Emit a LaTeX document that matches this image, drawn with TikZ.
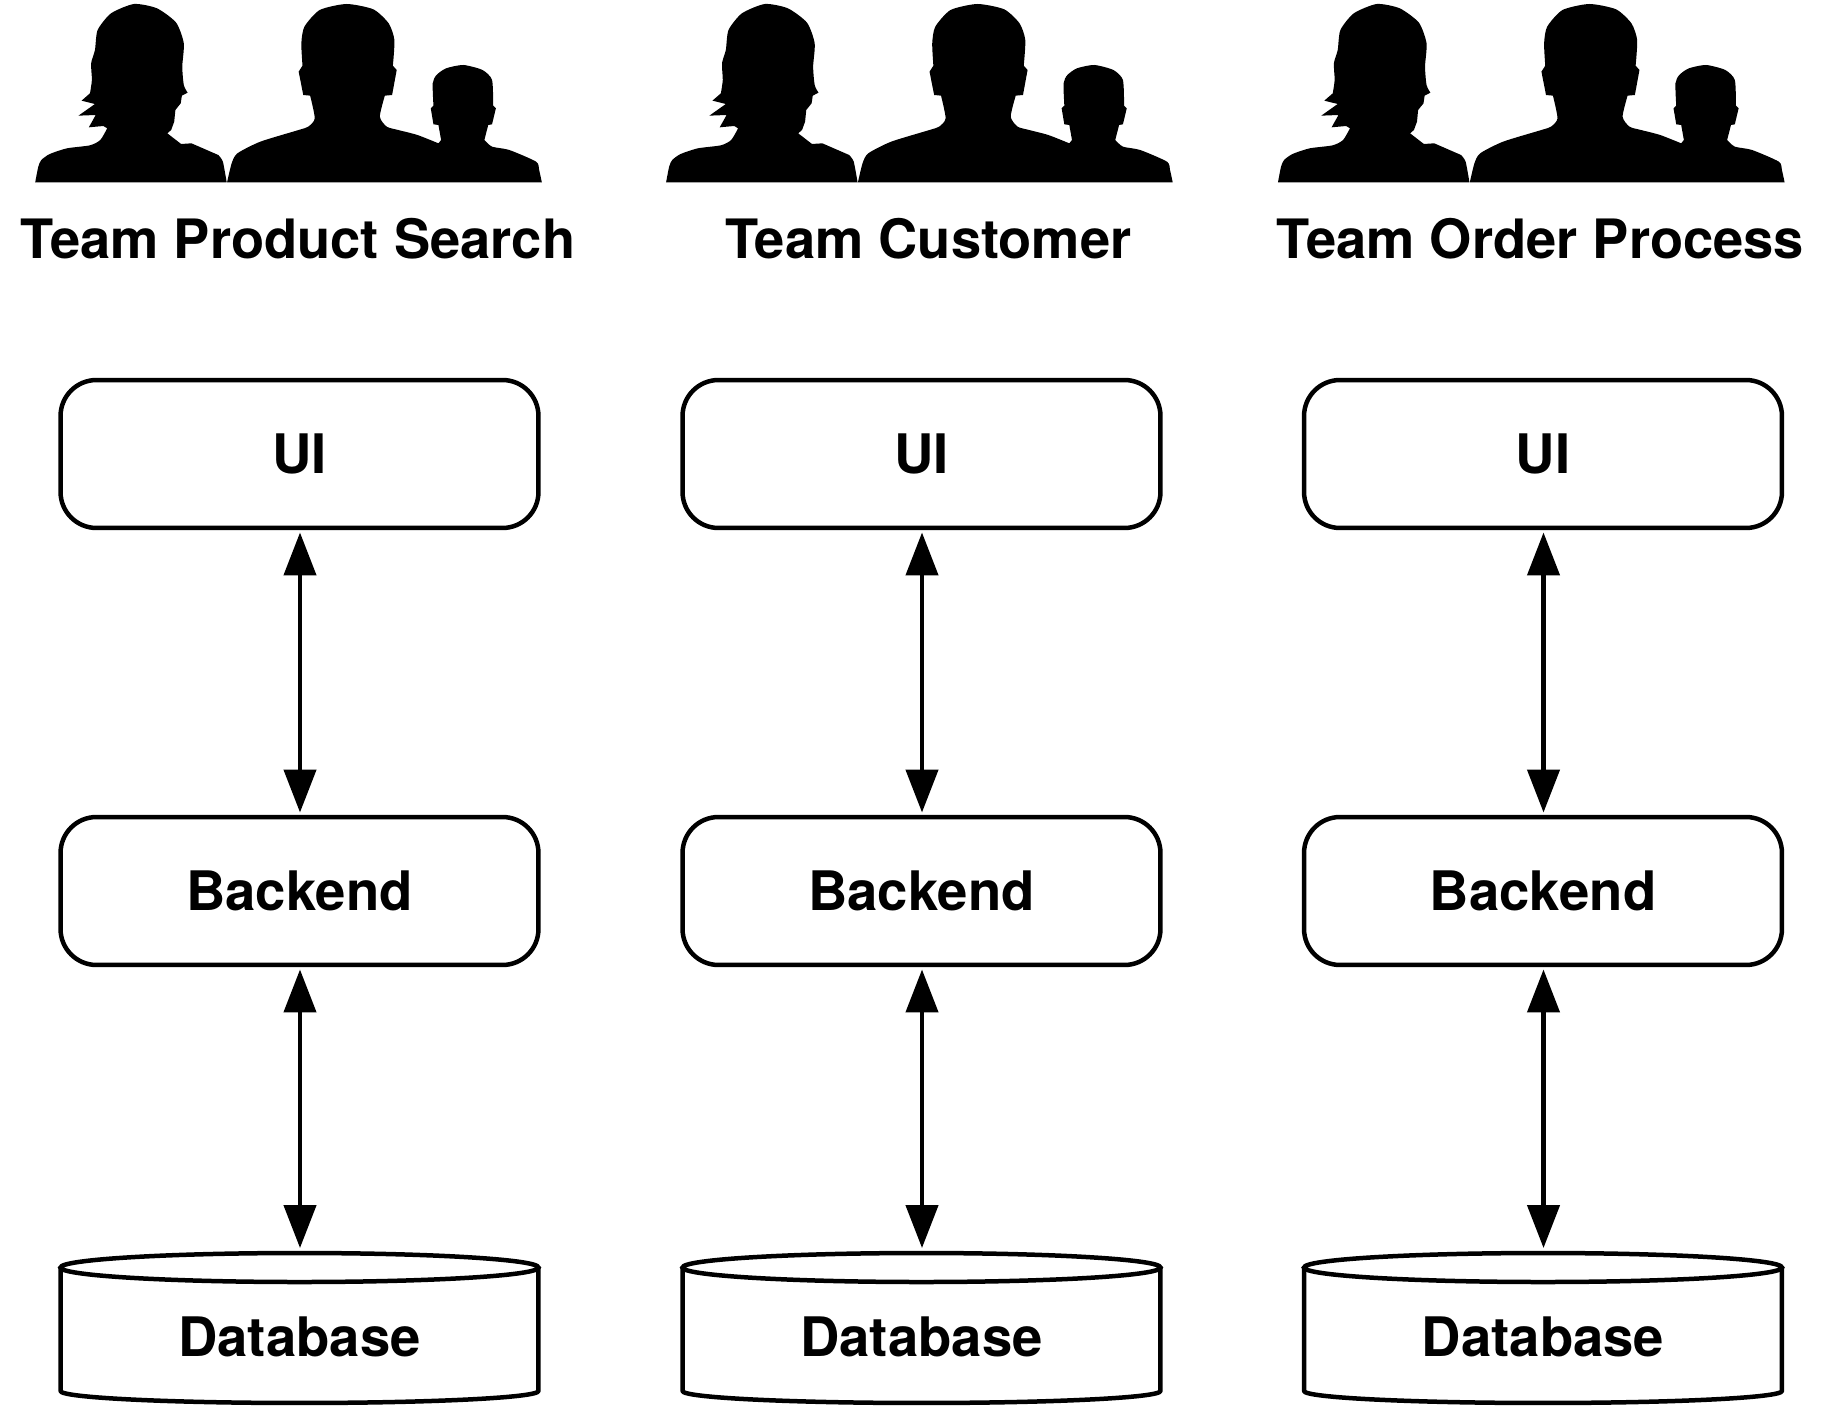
\documentclass[tikz,border=0pt]{standalone}
\usepackage{fontspec}
\setmainfont{TeX Gyre Heros}
\usetikzlibrary{arrows.meta, positioning, calc}

\tikzset{
    layerbox/.style={draw, line width=0.09cm, rounded corners=0.72cm, minimum width=9.56cm, minimum height=2.96cm, font=\bfseries\fontsize{31}{34}\selectfont, outer sep=0.09cm},
    databox/.style={minimum width=9.56cm, minimum height=3cm, font=\bfseries\fontsize{31}{34}\selectfont, outer sep=0pt},
    teamlabel/.style={font=\bfseries\fontsize{30.9}{34}\selectfont},
    link/.style={line width=0.09cm, {Triangle[length=0.86cm, width=0.64cm]}-{Triangle[length=0.86cm, width=0.64cm]}}
}

% Barrel round a named node
\newcommand{\barrel}[1]{
    \draw[line width=0.09cm] ($(#1.north)+(0,-0.29cm)$) ellipse [x radius=4.78cm, y radius=0.29cm];
    \draw[line width=0.09cm, line join=round] ($(#1.north west)+(0,-0.29cm)$) -- ($(#1.south west)+(0,0.24cm)$)
        arc [start angle=180, end angle=360, x radius=4.78cm, y radius=0.24cm] -- ($(#1.north east)+(0,-0.29cm)$);
}

% Three silhouettes, traced on a 2.61 by 3 grid
\newcommand{\teampeople}[1]{
    \begin{scope}[xshift=#1cm, x=0.00766cm, y=-0.00667cm]
        % Woman
        \fill plot[smooth, tension=0.4] coordinates {(92,547) (100,500) (108,480) (130,462) (175,445) (235,436) (262,420) (280,385)}
            -- (270,378) -- (232,382) -- (250,345) -- (205,347) -- (248,312) -- (213,302) -- (235,280)
            -- plot[smooth, tension=0.4] coordinates {(235,280) (240,240) (238,190) (248,150) (255,90) (290,40) (350,12) (410,25) (460,68) (480,130) (476,200) (480,255) (490,278)}
            -- (475,287) -- (472,310) -- (458,330) -- (455,365) -- (447,390) -- (437,400) -- (473,432) -- (500,430) -- (570,465)
            -- plot[smooth, tension=0.4] coordinates {(570,465) (582,485) (592,547)} -- cycle;
        % Man and child
        \fill plot[smooth, tension=0.4] coordinates {(593,547) (605,490) (620,460) (680,425) (780,390) (805,380) (822,355) (810,287)}
            -- (792,285) -- (780,215) -- (790,197)
            -- plot[smooth, tension=0.4] coordinates {(790,197) (787,130) (795,80) (835,30) (905,12) (975,28) (1015,70) (1030,120) (1026,197)}
            -- (1036,210) -- (1024,285) -- (1005,287)
            -- plot[smooth, tension=0.4] coordinates {(1005,287) (992,350) (1010,380) (1040,390) (1090,405) (1145,430)}
            -- (1152,420) -- (1145,375) -- (1132,373) -- (1125,325) -- (1132,317)
            -- plot[smooth, tension=0.4] coordinates {(1132,317) (1130,250) (1140,225) (1165,205) (1210,195) (1260,210) (1285,240) (1288,317)}
            -- (1295,325) -- (1285,373) -- (1275,375) -- (1265,420)
            -- plot[smooth, tension=0.4] coordinates {(1265,420) (1285,440) (1330,450) (1400,485) (1408,510) (1415,547)} -- cycle;
    \end{scope}
}

\begin{document}
\begin{tikzpicture}[x=0.02cm, y=-0.02cm]
    \useasboundingbox (0,0) rectangle (1829,1412);

    \foreach \col/\cx/\lx/\shift/\teamname in {
        1/299.5/298/0/Team Product Search,
        2/921.5/928.5/12.62/Team Customer,
        3/1543/1540.5/24.86/Team Order Process} {
        % People and team name
        \teampeople{\shift}
        \node[teamlabel] (team\col) at (\lx, 238.5) {\teamname};

        % Layers
        \node[layerbox] (ui\col) at (\cx, 454) {UI};
        \node[layerbox] (backend\col) at (\cx, 891) {Backend};
        \node[databox] (database\col) at (\cx, 1328) {\raisebox{-0.56cm}[1ex][1ex]{Database}};
        \barrel{database\col}

        % Links
        \draw[link] ([xshift=0.01cm]ui\col.south) -- ([xshift=0.01cm]backend\col.north);
        \draw[link, shorten >=0.1cm] ([xshift=0.01cm]backend\col.south) -- ([xshift=0.01cm]database\col.north);
    }
\end{tikzpicture}
\end{document}
